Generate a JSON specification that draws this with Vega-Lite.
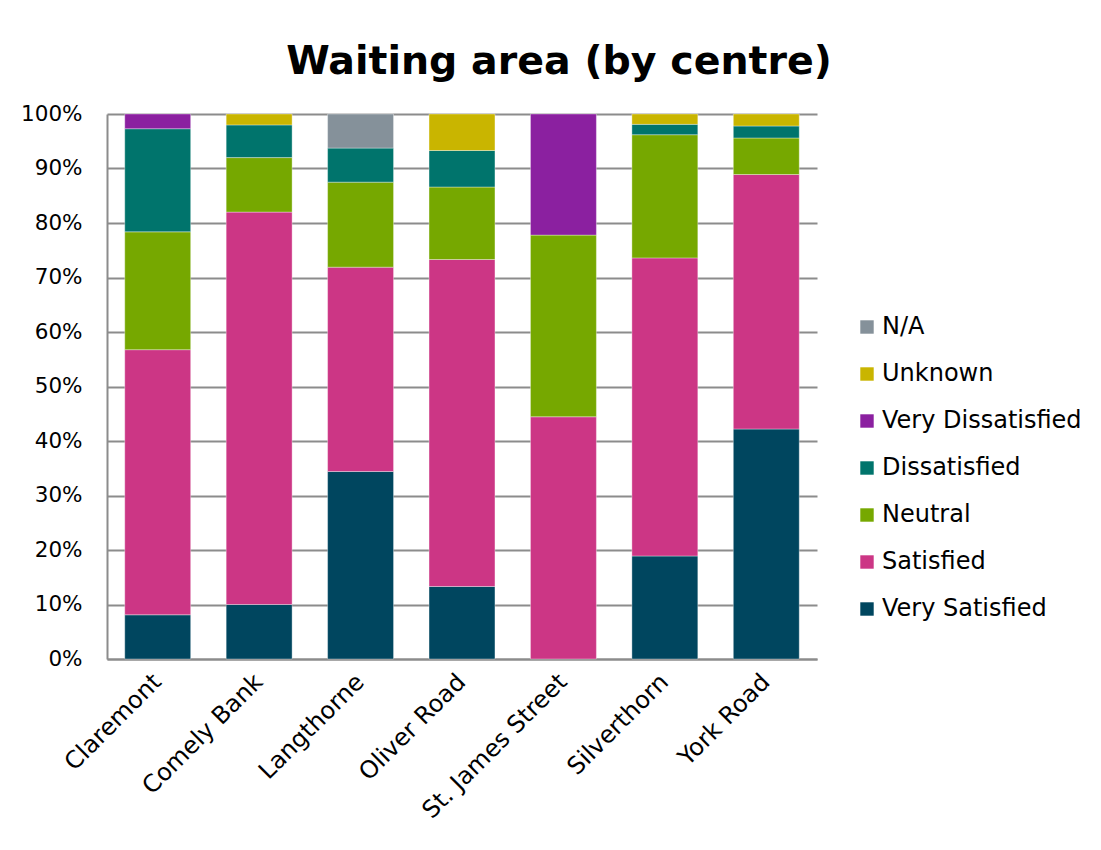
{
  "$schema": "https://vega.github.io/schema/vega-lite/v6.json",
  "width": 710,
  "height": 545,
  "padding": {"left": 20, "top": 41, "right": 10, "bottom": 5},
  "background": "white",
  "title": {"text": "Waiting area (by centre)", "font": "DejaVu Sans", "fontSize": 39.5, "fontWeight": "bold", "color": "#000000", "offset": 21, "anchor": "middle", "dx": 97},
  "data": {"values": [
    {"centre": "Claremont", "rating": "Very Satisfied", "pct": 8.1},
    {"centre": "Claremont", "rating": "Satisfied", "pct": 48.6},
    {"centre": "Claremont", "rating": "Neutral", "pct": 21.6},
    {"centre": "Claremont", "rating": "Dissatisfied", "pct": 18.9},
    {"centre": "Claremont", "rating": "Very Dissatisfied", "pct": 2.7},
    {"centre": "Comely Bank", "rating": "Very Satisfied", "pct": 10},
    {"centre": "Comely Bank", "rating": "Satisfied", "pct": 72},
    {"centre": "Comely Bank", "rating": "Neutral", "pct": 10},
    {"centre": "Comely Bank", "rating": "Dissatisfied", "pct": 6},
    {"centre": "Comely Bank", "rating": "Unknown", "pct": 2},
    {"centre": "Langthorne", "rating": "Very Satisfied", "pct": 34.4},
    {"centre": "Langthorne", "rating": "Satisfied", "pct": 37.5},
    {"centre": "Langthorne", "rating": "Neutral", "pct": 15.6},
    {"centre": "Langthorne", "rating": "Dissatisfied", "pct": 6.25},
    {"centre": "Langthorne", "rating": "N/A", "pct": 6.25},
    {"centre": "Oliver Road", "rating": "Very Satisfied", "pct": 13.3},
    {"centre": "Oliver Road", "rating": "Satisfied", "pct": 60},
    {"centre": "Oliver Road", "rating": "Neutral", "pct": 13.3},
    {"centre": "Oliver Road", "rating": "Dissatisfied", "pct": 6.7},
    {"centre": "Oliver Road", "rating": "Unknown", "pct": 6.7},
    {"centre": "St. James Street", "rating": "Satisfied", "pct": 44.4},
    {"centre": "St. James Street", "rating": "Neutral", "pct": 33.3},
    {"centre": "St. James Street", "rating": "Very Dissatisfied", "pct": 22.2},
    {"centre": "Silverthorn", "rating": "Very Satisfied", "pct": 18.9},
    {"centre": "Silverthorn", "rating": "Satisfied", "pct": 54.7},
    {"centre": "Silverthorn", "rating": "Neutral", "pct": 22.6},
    {"centre": "Silverthorn", "rating": "Dissatisfied", "pct": 1.9},
    {"centre": "Silverthorn", "rating": "Unknown", "pct": 1.9},
    {"centre": "York Road", "rating": "Very Satisfied", "pct": 42.2},
    {"centre": "York Road", "rating": "Satisfied", "pct": 46.7},
    {"centre": "York Road", "rating": "Neutral", "pct": 6.7},
    {"centre": "York Road", "rating": "Dissatisfied", "pct": 2.2},
    {"centre": "York Road", "rating": "Unknown", "pct": 2.2}
  ]},
  "transform": [
    {"calculate": "indexof(['Very Satisfied','Satisfied','Neutral','Dissatisfied','Very Dissatisfied','Unknown','N/A'], datum.rating)", "as": "stackOrder"}
  ],
  "mark": {"type": "bar", "stroke": "#ffffff", "strokeOpacity": 0.35, "strokeWidth": 1},
  "encoding": {
    "x": {
      "field": "centre", "type": "nominal", "sort": null,
      "scale": {"paddingInner": 0.35, "paddingOuter": 0.175},
      "axis": {"title": null, "labelAngle": -45, "labelAlign": "right", "labelBaseline": "middle", "labelFont": "DejaVu Sans", "labelFontSize": 24, "labelColor": "#000000", "labelPadding": 19, "labelLimit": 400, "domainColor": "#8c8c8c", "domainWidth": 2, "ticks": false}
    },
    "y": {
      "field": "pct", "type": "quantitative", "stack": "normalize",
      "scale": {"domain": [0, 1]},
      "axis": {"title": null, "format": ".0%", "values": [0, 0.1, 0.2, 0.3, 0.4, 0.5, 0.6, 0.7, 0.8, 0.9, 1], "labelFont": "DejaVu Sans", "labelFontSize": 21.5, "labelColor": "#000000", "labelPadding": 25, "domainColor": "#8c8c8c", "domainWidth": 2, "ticks": false, "grid": true, "gridColor": "#8c8c8c", "gridWidth": 2}
    },
    "color": {
      "field": "rating", "type": "nominal",
      "scale": {
        "domain": ["N/A", "Unknown", "Very Dissatisfied", "Dissatisfied", "Neutral", "Satisfied", "Very Satisfied"],
        "range": ["#85919A", "#C9B500", "#8B20A0", "#00746C", "#76A800", "#CC3685", "#00465F"]
      },
      "legend": {"title": null, "orient": "none", "legendX": 748, "legendY": 201, "symbolType": "square", "symbolSize": 180, "symbolStrokeWidth": 0, "labelFont": "DejaVu Sans", "labelFontSize": 24, "labelColor": "#000000", "labelLimit": 400, "rowPadding": 23, "labelOffset": 3}
    },
    "order": {"field": "stackOrder", "type": "quantitative", "sort": "ascending"}
  },
  "config": {"view": {"stroke": null}}
}
